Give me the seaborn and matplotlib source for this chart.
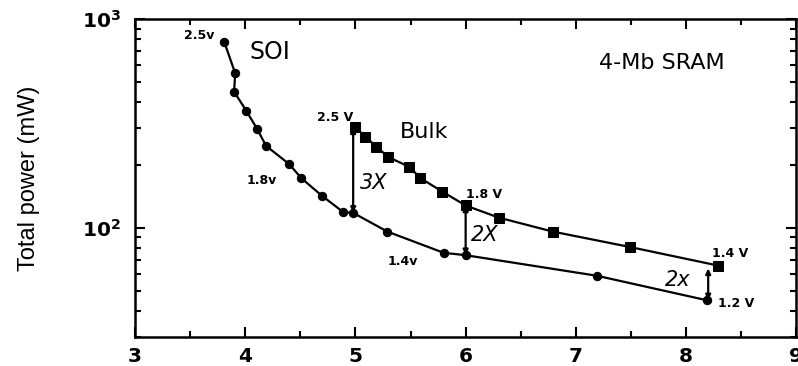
import matplotlib
matplotlib.use("Agg")
import matplotlib.pyplot as plt
from matplotlib.ticker import MultipleLocator, LogLocator, NullFormatter, FixedLocator
import seaborn as sns
import pandas as pd

# Access time (ns) vs total power (mW) for a 4-Mb SRAM, SOI vs bulk
soi_x = [3.81, 3.91, 3.90, 4.01, 4.11, 4.19, 4.40, 4.51, 4.70, 4.89, 4.98, 5.29, 5.80, 6.00, 7.19, 8.19]
soi_y = [779, 550, 449, 364, 297, 247, 202, 173, 142, 119, 118, 96, 76, 74, 59, 45]
bulk_x = [5.00, 5.09, 5.19, 5.30, 5.49, 5.59, 5.79, 6.00, 6.30, 6.79, 7.49, 8.29]
bulk_y = [303, 273, 245, 218, 196, 173, 149, 128, 112, 96, 81, 66]

# Power ratio markers between the two technologies
gap_x = [4.98, 6.00, 8.20]
gap_top = [303, 128, 64]
gap_bottom = [118, 74, 45]
gap_labels = ["3X", "2X", "2x"]

x_ticks = [3, 4, 5, 6, 7, 8, 9]
y_ticks = [100, 1000]
y_tick_labels = [r"$\mathbf{10^{2}}$", r"$\mathbf{10^{3}}$"]

sns.set_theme(style="ticks")
plt.rcParams["font.family"] = ["DejaVu Sans"]
plt.rcParams["text.color"] = "black"
plt.rcParams["axes.labelcolor"] = "black"
plt.rcParams["xtick.color"] = "black"
plt.rcParams["ytick.color"] = "black"

fig = plt.figure(figsize=(7.98, 3.66), dpi=100)
ax = fig.add_axes([0.169, 0.079, 0.829, 0.869])

soi = pd.DataFrame({"x": soi_x, "y": soi_y})
bulk = pd.DataFrame({"x": bulk_x, "y": bulk_y})

sns.lineplot(data=soi, x="x", y="y", sort=False, estimator=None, ax=ax,
             color="black", lw=1.6, marker="o", markersize=6,
             markeredgecolor="black", markerfacecolor="black")
sns.lineplot(data=bulk, x="x", y="y", sort=False, estimator=None, ax=ax,
             color="black", lw=1.6, marker="s", markersize=6.5,
             markeredgecolor="black", markerfacecolor="black")

for gx, gt, gb in zip(gap_x, gap_top, gap_bottom):
    ax.annotate("", xy=(gx, gb), xytext=(gx, gt),
                arrowprops=dict(arrowstyle="<|-|>,head_length=0.25,head_width=0.12",
                                color="black", lw=1.6, shrinkA=0, shrinkB=0))

ax.set_yscale("log")
ax.set_xlim(3, 9)
ax.set_ylim(30, 1000)

ax.xaxis.set_major_locator(FixedLocator(x_ticks))
ax.xaxis.set_minor_locator(MultipleLocator(0.5))
ax.yaxis.set_major_locator(FixedLocator(y_ticks))
ax.set_yticklabels(y_tick_labels)
ax.yaxis.set_minor_locator(LogLocator(base=10, subs=range(2, 10)))
ax.yaxis.set_minor_formatter(NullFormatter())

ax.tick_params(which="both", direction="in", top=True, right=True, width=1.5, colors="black")
ax.tick_params(which="major", length=7)
ax.tick_params(which="minor", length=4)
ax.tick_params(axis="x", labelsize=14.5, pad=7)
ax.tick_params(axis="y", labelsize=14.5, pad=10)
for lab in ax.get_xticklabels():
    lab.set_fontweight("bold")

for sp in ax.spines.values():
    sp.set_linewidth(1.8)
    sp.set_color("black")

ax.set_xlabel("")
ax.set_ylabel("Total power (mW)", fontsize=17, family=["Liberation Sans", "DejaVu Sans"],
              labelpad=30, color="black")

# Series and title labels
ax.text(4.04, 695, "SOI", fontsize=17, va="center", ha="left")
ax.text(7.21, 616, "4-Mb SRAM", fontsize=16, va="center", ha="left")
ax.text(5.40, 288, "Bulk", fontsize=16, va="center", ha="left")

# Supply voltage labels
small = dict(fontsize=9, fontweight="bold", va="center")
ax.text(3.72, 830, "2.5v", ha="right", **small)
ax.text(4.65, 336, "2.5 V", ha="left", **small)
ax.text(4.01, 168, "1.8v", ha="left", **small)
ax.text(6.00, 144, "1.8 V", ha="left", **small)
ax.text(5.29, 69.4, "1.4v", ha="left", **small)
ax.text(8.23, 75, "1.4 V", ha="left", **small)
ax.text(8.29, 43.6, "1.2 V", ha="left", **small)

# Ratio labels next to the arrows
ratio_pos = [(5.04, 164), (6.05, 92.8), (7.81, 56.2)]
for (tx, ty), lab in zip(ratio_pos, gap_labels):
    ax.text(tx, ty, lab, fontsize=15, style="italic", va="center", ha="left")

fig.savefig("out.png", dpi=100)
